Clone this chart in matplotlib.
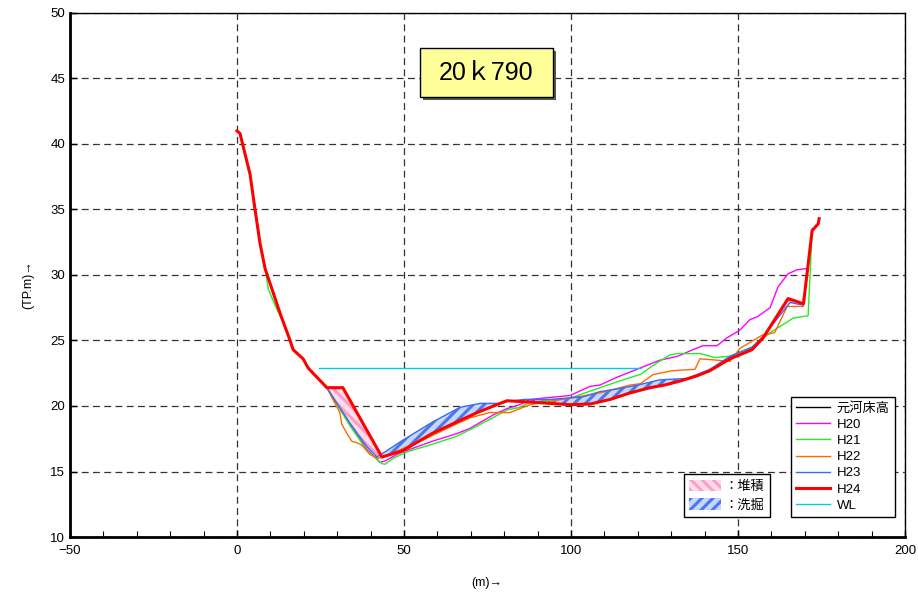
import numpy as np
import matplotlib
matplotlib.use("Agg")
import matplotlib.pyplot as plt
from matplotlib.patches import Rectangle, Patch

plt.rcParams['font.family'] = ['Liberation Sans', 'Noto Sans CJK JP', 'DejaVu Sans']
plt.rcParams['hatch.linewidth'] = 2.2

# ---------------- data ----------------
title_text = "20ｋ790"
series_names = ["元河床高", "H20", "H21", "H22", "H23", "H24", "WL"]

h24_x = [0, 0.9, 3.9, 5.4, 6.9, 8.4, 10.5, 13.0, 15.9, 16.8, 19.8, 21.3, 26.9, 31.7, 43.4,
         49.7, 58.4, 66.8, 71.9, 80.8, 87.7, 93.7, 99.7, 105.7, 111.7, 117.7, 123.7, 128.0,
         132.6, 137.7, 141.6, 147.6, 154.2, 157.5, 165.0, 169.6, 172.2, 174.0, 174.3]
h24_y = [41.0, 40.8, 37.7, 35.0, 32.4, 30.5, 28.9, 27.0, 25.0, 24.3, 23.6, 22.9, 21.4, 21.4, 16.1,
         16.6, 17.9, 18.9, 19.5, 20.4, 20.3, 20.2, 20.1, 20.15, 20.5, 21.0, 21.4, 21.6,
         21.9, 22.3, 22.7, 23.6, 24.3, 25.2, 28.2, 27.8, 33.4, 33.9, 34.3]

h23_x = [0, 0.9, 3.9, 5.4, 6.9, 8.4, 10.5, 13.0, 15.9, 16.8, 19.8, 21.3, 26.9, 33.8, 38.9,
         41.9, 49.7, 58.7, 66.8, 72.8, 78.7, 81.0, 86.0, 93.7, 103.6, 108.7, 113.8, 120.0,
         126.6, 134.7, 137.7, 141.6, 147.6, 154.2, 157.5, 165.6, 169.5, 172.2]
h23_y = [41.0, 40.8, 37.7, 35.0, 32.4, 30.5, 28.9, 27.0, 25.0, 24.3, 23.6, 22.9, 21.4, 18.7, 16.9,
         16.1, 17.4, 18.8, 19.9, 20.2, 20.2, 20.35, 20.5, 20.5, 20.7, 21.1, 21.3, 21.6,
         22.0, 22.1, 22.4, 22.8, 23.8, 24.5, 25.3, 27.9, 27.7, 33.4]

h22_x = [0, 0.9, 3.9, 5.4, 6.9, 8.4, 10.5, 13.0, 15.9, 16.8, 19.8, 21.3, 26.9, 28.7, 30.8,
         31.4, 32.9, 34.4, 35.9, 37.4, 39.8, 42.2, 45.8, 50.9, 55.7, 63.8, 69.8, 75.7, 81.7,
         84.7, 87.7, 99.7, 108.7, 117.7, 120.7, 124.6, 130.5, 137.1, 138.6, 143.7, 147.6,
         150.6, 157.2, 161.0, 164.7, 169.5, 172.2]
h22_y = [41.0, 40.8, 37.7, 35.0, 32.4, 30.5, 28.9, 27.0, 25.0, 24.3, 23.6, 22.9, 21.4, 20.5, 19.5,
         18.6, 17.9, 17.3, 17.2, 17.0, 16.3, 16.0, 16.3, 16.9, 17.4, 18.4, 19.1, 19.5, 19.5,
         19.8, 20.1, 20.6, 21.0, 21.6, 21.7, 22.4, 22.7, 22.8, 23.6, 23.5, 23.4,
         24.4, 25.4, 25.6, 27.6, 27.6, 33.4]

h21_x = [0, 0.9, 3.9, 5.4, 6.9, 8.4, 9.4, 11.9, 13.5, 15.9, 16.8, 19.8, 21.3, 26.9, 33.8,
         38.9, 43.4, 44.3, 46.7, 50.9, 58.7, 65.9, 69.8, 76.6, 80.8, 84.7, 87.7, 99.7, 108.7,
         116.8, 120.7, 124.6, 129.6, 132.0, 138.6, 143.1, 147.6, 154.5, 159.6, 166.5, 171.0,
         172.2]
h21_y = [41.0, 40.8, 37.7, 35.0, 32.4, 30.5, 28.9, 27.4, 26.6, 25.0, 24.3, 23.6, 22.9, 21.4, 18.5,
         16.6, 15.6, 15.55, 16.0, 16.5, 17.1, 17.7, 18.2, 19.1, 19.7, 19.9, 20.3, 20.6, 21.4,
         22.1, 22.4, 23.1, 23.9, 24.0, 24.0, 23.7, 23.8, 24.5, 25.6, 26.7, 26.9,
         33.4]

h20_x = [0, 0.9, 3.9, 5.4, 6.9, 8.4, 10.5, 13.0, 15.9, 16.8, 19.8, 21.3, 26.9, 33.8, 38.9,
         42.8, 44.3, 47.9, 49.7, 58.4, 65.9, 69.8, 76.6, 80.8, 84.7, 87.7, 99.7, 105.7, 108.7,
         113.8, 120.7, 126.6, 132.0, 136.5, 139.5, 143.7, 146.7, 150.6, 153.6, 155.7, 159.6,
         162.0, 165.0, 167.7, 170.7]
h20_y = [41.0, 40.8, 37.7, 35.0, 32.4, 30.5, 28.9, 27.0, 25.0, 24.3, 23.6, 22.9, 21.4, 18.6, 16.7,
         15.7, 15.8, 16.3, 16.5, 17.3, 17.9, 18.3, 19.3, 19.8, 20.1, 20.5, 20.8, 21.5, 21.6,
         22.2, 22.9, 23.5, 23.8, 24.3, 24.6, 24.6, 25.2, 25.8, 26.6, 26.8, 27.5,
         29.1, 30.1, 30.4, 30.5]

wl_x = [24.6, 121.0]
wl_y = [22.9, 22.9]

hatch_labels = ["：堆積", "：洗掘"]

x_ticks = [-50, 0, 50, 100, 150, 200]
y_ticks = [10, 15, 20, 25, 30, 35, 40, 45, 50]

# ---------------- figure ----------------
fig = plt.figure(figsize=(9.18, 5.96), dpi=100)
ax = fig.add_axes([70 / 918, 1 - 537 / 596, 835 / 918, 524 / 596])
ax.set_xlim(-50, 200)
ax.set_ylim(10, 50)
ax.set_xticks(x_ticks)
ax.set_yticks(y_ticks)
ax.set_xticks(np.arange(-50, 201, 10), minor=True)
ax.tick_params(axis='both', which='both', direction='in', labelsize=9.5)
ax.tick_params(axis='both', which='major', length=5, width=1)
ax.tick_params(axis='x', which='minor', length=4, width=0.8)
ax.tick_params(axis='x', pad=6)
ax.grid(True, which='major', color='#333333', linestyle=(0, (5.5, 3.5)), linewidth=0.9)
ax.set_axisbelow(True)
for side in ['left', 'bottom']:
    ax.spines[side].set_linewidth(2)
for side in ['right', 'top']:
    ax.spines[side].set_linewidth(1)

# hatch fills between H23 and H24
xg = np.linspace(0, 172.2, 3000)
y23 = np.interp(xg, h23_x, h23_y)
y24 = np.interp(xg, h24_x, h24_y)
pink_face = '#ffdcea'
pink_hatch = '#ff9cc8'
blue_face = '#c8d6ff'
blue_hatch = '#4a78e8'
ax.fill_between(xg, y23, y24, where=y24 > y23, interpolate=True,
                facecolor=pink_face, edgecolor=pink_hatch, hatch='\\\\\\', linewidth=0, zorder=2)
ax.fill_between(xg, y23, y24, where=y24 < y23, interpolate=True,
                facecolor=blue_face, edgecolor=blue_hatch, hatch='///', linewidth=0, zorder=2)

c20, c21, c22, c23, c24, cwl = '#ff00ff', '#22ee22', '#ff6a00', '#3a6cf0', '#ff0000', '#00c8f0'
l0, = ax.plot([], [], color='black', lw=1.0, label=series_names[0])
l1, = ax.plot(h20_x, h20_y, color=c20, lw=1.0, label=series_names[1], zorder=3)
l2, = ax.plot(h21_x, h21_y, color=c21, lw=1.0, label=series_names[2], zorder=3)
l3, = ax.plot(h22_x, h22_y, color=c22, lw=1.0, label=series_names[3], zorder=3)
l4, = ax.plot(h23_x, h23_y, color=c23, lw=1.0, label=series_names[4], zorder=3)
l5, = ax.plot(h24_x, h24_y, color=c24, lw=2.2, label=series_names[5], zorder=4)
l6, = ax.plot(wl_x, wl_y, color=cwl, lw=1.0, label=series_names[6], zorder=3)

leg = ax.legend(handles=[l0, l1, l2, l3, l4, l5, l6], loc='lower right',
                bbox_to_anchor=(0.988, 0.038), borderaxespad=0, fontsize=9.5,
                frameon=True, fancybox=False, edgecolor='black', framealpha=1,
                handlelength=2.6, labelspacing=0.3, handletextpad=0.5, borderpad=0.4)
leg.get_frame().set_linewidth(1.0)
leg.set_zorder(10)
ax.add_artist(leg)

hp = Patch(facecolor=pink_face, edgecolor=pink_hatch, hatch='\\\\\\', linewidth=0)
hb = Patch(facecolor=blue_face, edgecolor=blue_hatch, hatch='///', linewidth=0)
leg2 = ax.legend(handles=[hp, hb], labels=hatch_labels, loc='lower right',
                 bbox_to_anchor=(0.838, 0.038), borderaxespad=0, fontsize=9.5,
                 frameon=True, fancybox=False, edgecolor='black', framealpha=1,
                 handlelength=2.4, handleheight=1.0, labelspacing=0.4, handletextpad=0.3,
                 borderpad=0.4)
leg2.get_frame().set_linewidth(1.0)
leg2.set_zorder(10)

# title box with shadow
bx0, bx1 = (420 - 70) / 835, (553 - 70) / 835
by0, by1 = (537 - 97) / 524, (537 - 48) / 524
ax.add_patch(Rectangle((bx0 + 3 / 835, by0 - 3 / 524), bx1 - bx0, by1 - by0,
                       transform=ax.transAxes, facecolor='#555555', edgecolor='none', zorder=11))
ax.add_patch(Rectangle((bx0, by0), bx1 - bx0, by1 - by0, transform=ax.transAxes,
                       facecolor='#ffff99', edgecolor='black', linewidth=1.0, zorder=12))
ax.text((bx0 + bx1) / 2, (by0 + by1) / 2, title_text, transform=ax.transAxes,
        ha='center', va='center', fontsize=18, zorder=13)

fig.text(28 / 918, 1 - 285 / 596, "(TP.m)→", rotation=90, ha='center', va='center', fontsize=9)
fig.text(487 / 918, 1 - 583 / 596, "(m)→", ha='center', va='center', fontsize=9)

fig.savefig("out.png", dpi=100)
